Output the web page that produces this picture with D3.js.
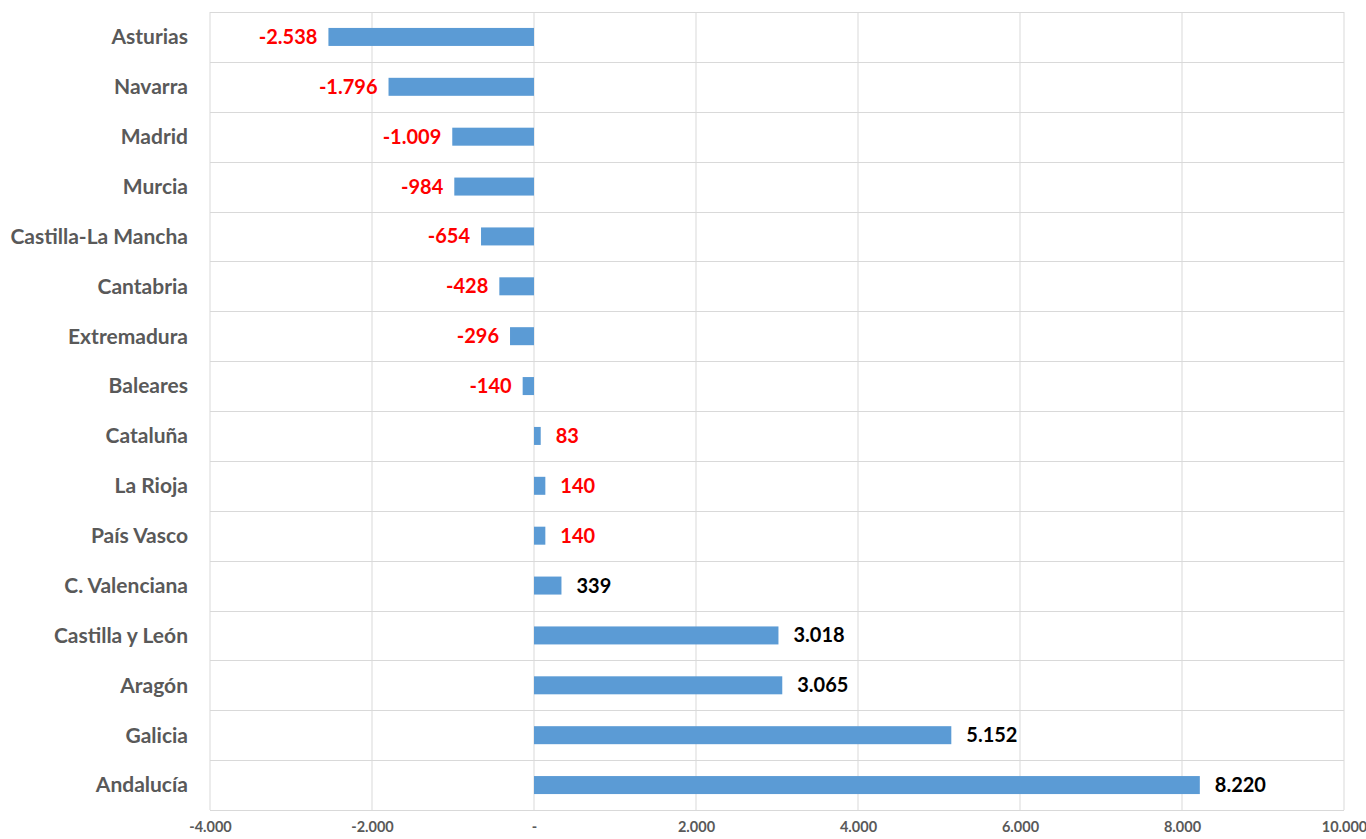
<!DOCTYPE html>
<html>
<head>
<meta charset="utf-8">
<script src="https://cdn.jsdelivr.net/npm/d3@7"></script>
<style>
  body { margin: 0; background: #fff; }
  text { font-family: Lato, "Open Sans", sans-serif; font-weight: 700; }
</style>
</head>
<body>
<script>
  // Data
  const regions = ['Asturias', 'Navarra', 'Madrid', 'Murcia', 'Castilla-La Mancha', 'Cantabria',
    'Extremadura', 'Baleares', 'Cataluña', 'La Rioja', 'País Vasco', 'C. Valenciana',
    'Castilla y León', 'Aragón', 'Galicia', 'Andalucía'];
  const values = [-2538, -1796, -1009, -984, -654, -428, -296, -140, 83, 140, 140, 339,
    3018, 3065, 5152, 8220];
  // labels drawn red up to País Vasco, black after
  const redLabels = ['Asturias', 'Navarra', 'Madrid', 'Murcia', 'Castilla-La Mancha', 'Cantabria',
    'Extremadura', 'Baleares', 'Cataluña', 'La Rioja', 'País Vasco'];
  const xTicks = [-4000, -2000, 0, 2000, 4000, 6000, 8000, 10000];

  const margin = {top: 12, bottom: 29, left: 210, right: 22};
  const W = 1366, H = 839;
  const width = W - margin.left - margin.right;
  const height = H - margin.top - margin.bottom;

  const svg = d3.select('body').append('svg')
    .attr('width', W).attr('height', H);
  const g = svg.append('g')
    .attr('transform', `translate(${margin.left},${margin.top})`);

  const x = d3.scaleLinear().domain([-4000, 10000]).range([0, width]);
  const y = d3.scaleBand().domain(regions).range([0, height]);
  const barH = 18;

  // spanish style: dot as thousands separator, plain hyphen, dash for zero
  const fmt = d => d === 0 ? '-' : d3.format(',')(d).replace(/,/g, '.').replace('\u2212', '-');

  // vertical gridlines
  g.selectAll('.vgrid').data(xTicks).enter().append('line')
    .attr('x1', d => x(d)).attr('x2', d => x(d))
    .attr('y1', 0).attr('y2', height)
    .attr('stroke', '#d9d9d9').attr('stroke-width', 1);
  // horizontal gridlines (row borders)
  const rowEdges = regions.map(r => y(r)).concat([height]);
  g.selectAll('.hgrid').data(rowEdges).enter().append('line')
    .attr('x1', 0).attr('x2', width)
    .attr('y1', d => Math.round(d) + 0.5).attr('y2', d => Math.round(d) + 0.5)
    .attr('stroke', '#d9d9d9').attr('stroke-width', 1);

  // bars
  g.selectAll('rect').data(values).enter().append('rect')
    .attr('x', d => x(Math.min(0, d)))
    .attr('width', d => Math.abs(x(d) - x(0)))
    .attr('y', (d, i) => y(regions[i]) + y.bandwidth() / 2 - barH / 2)
    .attr('height', barH)
    .attr('fill', '#5b9bd5');

  // value labels
  g.selectAll('.val').data(values).enter().append('text')
    .attr('x', d => d < 0 ? x(d) - 11 : x(d) + 15)
    .attr('y', (d, i) => y(regions[i]) + y.bandwidth() / 2)
    .attr('dy', '0.35em')
    .attr('text-anchor', d => d < 0 ? 'end' : 'start')
    .attr('font-size', 20)
    .attr('fill', (d, i) => redLabels.includes(regions[i]) ? '#ff0000' : '#000')
    .text(fmt);

  // category labels
  g.selectAll('.cat').data(regions).enter().append('text')
    .attr('x', -22)
    .attr('y', d => y(d) + y.bandwidth() / 2)
    .attr('dy', '0.35em')
    .attr('text-anchor', 'end')
    .attr('font-size', 21)
    .attr('fill', '#595959')
    .text(d => d);

  // x axis
  const xAxis = d3.axisBottom(x).tickValues(xTicks).tickFormat(fmt).tickSize(0).tickPadding(12);
  const ax = g.append('g').attr('transform', `translate(0,${height})`).call(xAxis);
  ax.select('.domain').remove();
  ax.selectAll('text').attr('font-size', 14.5).attr('fill', '#595959')
    .style('font-family', 'Lato, sans-serif').style('font-weight', 700);
</script>
</body>
</html>
